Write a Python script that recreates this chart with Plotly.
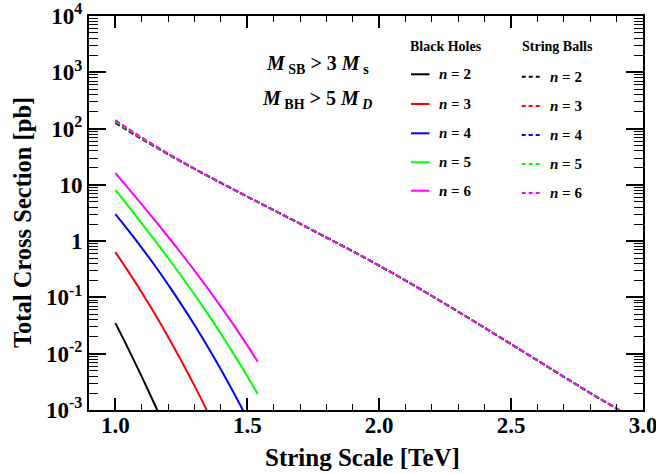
import plotly.graph_objects as go

# ---------------- data ----------------
# Black holes (solid): string scale [TeV] and total cross section [pb]
bh_x_n2 = [1.0, 1.05, 1.10, 1.15, 1.20]
bh_y_n2 = [0.0349, 0.01197, 0.00392, 0.001225, 0.000366]

bh_x_n3 = [1.0, 1.05, 1.10, 1.15, 1.20, 1.25, 1.30, 1.35, 1.40]
bh_y_n3 = [0.637, 0.2844, 0.1227, 0.0506, 0.0199, 0.00748, 0.002685, 0.000920, 0.000301]

bh_x_n4 = [1.0, 1.05, 1.10, 1.15, 1.20, 1.25, 1.30, 1.35, 1.40, 1.45, 1.50]
bh_y_n4 = [3.03, 1.538, 0.762, 0.365, 0.1687, 0.0753, 0.0323, 0.01332, 0.00524, 0.00197, 0.000707]

bh_x_n5 = [1.0, 1.05, 1.10, 1.15, 1.20, 1.25, 1.30, 1.35, 1.40, 1.45, 1.50, 1.54]
bh_y_n5 = [8.15, 4.13, 2.07, 1.026, 0.502, 0.240, 0.1125, 0.0511, 0.02257, 0.00963, 0.00397, 0.00190]

bh_x_n6 = [1.0, 1.05, 1.10, 1.15, 1.20, 1.25, 1.30, 1.35, 1.40, 1.45, 1.50, 1.54]
bh_y_n6 = [16.1, 8.57, 4.50, 2.33, 1.197, 0.603, 0.299, 0.1447, 0.0685, 0.0315, 0.01406, 0.00718]

# String balls (dashed)
sb_x = [1.0, 1.1, 1.2, 1.3, 1.4, 1.5, 1.6, 1.7, 1.8, 1.9, 2.0,
        2.1, 2.2, 2.3, 2.4, 2.5, 2.6, 2.7, 2.8, 2.9, 2.95]
sb_y_n2 = [126, 65.0, 34.8, 19.2, 10.84, 6.17, 3.55, 2.04, 1.16, 0.661, 0.367,
           0.1995, 0.106, 0.0556, 0.0288, 0.0148, 0.00759, 0.00389, 0.00200, 0.00106, 0.00076]
sb_y_n3 = [129, 66.0, 35.0, 19.2, 10.84, 6.17, 3.55, 2.04, 1.16, 0.661, 0.367,
           0.1995, 0.106, 0.0556, 0.0288, 0.0148, 0.00759, 0.00389, 0.00200, 0.00106, 0.00076]
sb_y_n4 = [132, 67.0, 35.3, 19.3, 10.84, 6.17, 3.55, 2.04, 1.16, 0.661, 0.367,
           0.1995, 0.106, 0.0556, 0.0288, 0.0148, 0.00759, 0.00389, 0.00200, 0.00106, 0.00076]
sb_y_n5 = [135, 67.6, 35.5, 19.3, 10.84, 6.17, 3.55, 2.04, 1.16, 0.661, 0.367,
           0.1995, 0.106, 0.0556, 0.0288, 0.0148, 0.00759, 0.00389, 0.00200, 0.00106, 0.00076]
sb_y_n6 = [141, 69.5, 36.0, 19.4, 10.9, 6.17, 3.55, 2.04, 1.16, 0.661, 0.367,
           0.1995, 0.106, 0.0556, 0.0288, 0.0148, 0.00759, 0.00389, 0.00200, 0.00106, 0.00076]

n_labels = ["2", "3", "4", "5", "6"]
colors = ["#000000", "#ff0000", "#0000ff", "#00ff00", "#ff00ff"]

x_tickvals = [1.0, 1.5, 2.0, 2.5, 3.0]
x_ticktext = ["1.0", "1.5", "2.0", "2.5", "3.0"]
y_tickvals = [1e-3, 1e-2, 1e-1, 1, 10, 1e2, 1e3, 1e4]
y_ticktext = ["10<sup>-3</sup>", "10<sup>-2</sup>", "10<sup>-1</sup>", "1", "10",
              "10<sup>2</sup>", "10<sup>3</sup>", "10<sup>4</sup>"]

# ---------------- figure ----------------
W, H = 656, 474
ML, MR, MT, MB = 89, 13, 16, 64
PW, PH = W - ML - MR, H - MT - MB


def px(x):
    return (x - ML) / PW


def py(y):
    return 1 - (y - MT) / PH


FONT = "Liberation Serif, Times New Roman, serif"

fig = go.Figure()

bh_sets = [(bh_x_n2, bh_y_n2), (bh_x_n3, bh_y_n3), (bh_x_n4, bh_y_n4),
           (bh_x_n5, bh_y_n5), (bh_x_n6, bh_y_n6)]
sb_sets = [sb_y_n2, sb_y_n3, sb_y_n4, sb_y_n5, sb_y_n6]

for (xs, ys), c, n in zip(bh_sets, colors, n_labels):
    fig.add_trace(go.Scatter(x=xs, y=ys, mode="lines", line=dict(color=c, width=2),
                             name="BH n=" + n, showlegend=False, line_shape="spline"))
for ys, c, n in zip(sb_sets, colors, n_labels):
    fig.add_trace(go.Scatter(x=sb_x, y=ys, mode="lines",
                             line=dict(color=c, width=2, dash="5px,3px"),
                             name="SB n=" + n, showlegend=False, line_shape="spline"))

minor_y = [m * 10 ** e for e in range(-3, 4) for m in range(2, 10)]

fig.update_layout(
    template="none",
    width=W, height=H,
    margin=dict(l=ML, r=MR, t=MT, b=MB, autoexpand=False),
    paper_bgcolor="white", plot_bgcolor="white",
    font=dict(family=FONT, color="black"),
    xaxis=dict(range=[0.9, 3.0], tickvals=x_tickvals, ticktext=x_ticktext, automargin=False,
               ticks="inside", ticklen=12, tickwidth=1.5, tickcolor="black",
               showline=True, linewidth=2, linecolor="black", mirror="allticks",
               showgrid=False, zeroline=False, ticklabeloverflow="allow",
               ticklabelstandoff=-7,
               tickfont=dict(size=23, family=FONT, weight="bold"),
               minor=dict(ticks="inside", ticklen=6, tickwidth=1.2, dtick=0.1, tick0=0.9,
                          tickcolor="black", showgrid=False)),
    yaxis=dict(type="log", range=[-3, 4], tickvals=y_tickvals, ticktext=y_ticktext, automargin=False,
               ticks="inside", ticklen=17, tickwidth=1.5, tickcolor="black",
               showline=True, linewidth=2, linecolor="black", mirror="allticks",
               showgrid=False, zeroline=False, ticklabeloverflow="allow",
               tickfont=dict(size=23, family=FONT, weight="bold"),
               minor=dict(ticks="inside", ticklen=9, tickwidth=1.2, tickvals=minor_y,
                          tickcolor="black", showgrid=False)),
)

ann = []
# axis titles
ann.append(dict(text="Total Cross Section [pb]", x=px(22), y=py(223), xref="paper", yref="paper",
                textangle=-90, showarrow=False, xanchor="center", yanchor="middle",
                font=dict(size=24.5, family=FONT, weight="bold")))
ann.append(dict(text="String Scale [TeV]", x=px(362), y=py(458), xref="paper", yref="paper",
                showarrow=False, xanchor="center", yanchor="middle",
                font=dict(size=25, family=FONT, weight="bold")))
# mass cut labels
ann.append(dict(text="<i>M</i><sub> SB</sub> > 3 <i>M</i><sub> s</sub>", x=px(264), y=py(64),
                xref="paper", yref="paper", showarrow=False, xanchor="left", yanchor="middle",
                font=dict(size=20, family=FONT, weight="bold")))
ann.append(dict(text="<i>M</i><sub> BH</sub> > 5 <i>M</i><sub> <i>D</i></sub>", x=px(260), y=py(100),
                xref="paper", yref="paper", showarrow=False, xanchor="left", yanchor="middle",
                font=dict(size=20, family=FONT, weight="bold")))
# legend headers
ann.append(dict(text="Black Holes", x=px(408), y=py(47), xref="paper", yref="paper",
                showarrow=False, xanchor="left", yanchor="middle",
                font=dict(size=14, family=FONT, weight="bold")))
ann.append(dict(text="String Balls", x=px(520), y=py(46), xref="paper", yref="paper",
                showarrow=False, xanchor="left", yanchor="middle",
                font=dict(size=14, family=FONT, weight="bold")))

bh_rows = [74.3, 104, 133.3, 162.3, 190.7]
sb_rows = [76.7, 106, 135, 164, 193]
shapes = []
for c, n, yb, ys in zip(colors, n_labels, bh_rows, sb_rows):
    shapes.append(dict(type="line", xref="paper", yref="paper", x0=px(411), x1=px(429.5),
                       y0=py(yb), y1=py(yb), line=dict(color=c, width=2)))
    shapes.append(dict(type="line", xref="paper", yref="paper", x0=px(521.7), x1=px(540),
                       y0=py(ys), y1=py(ys), line=dict(color=c, width=2, dash="4px,3px")))
    ann.append(dict(text="<i>n</i> = " + n, x=px(436.5), y=py(yb), xref="paper", yref="paper",
                    showarrow=False, xanchor="left", yanchor="middle",
                    font=dict(size=15, family=FONT, weight="bold")))
    ann.append(dict(text="<i>n</i> = " + n, x=px(548), y=py(ys), xref="paper", yref="paper",
                    showarrow=False, xanchor="left", yanchor="middle",
                    font=dict(size=15, family=FONT, weight="bold")))

fig.update_layout(annotations=ann, shapes=shapes)

fig.write_html("out.html", config={"displayModeBar": False},
               post_script="document.body.style.margin='0';document.body.style.padding='0';"
                           "document.body.style.overflow='hidden';")
